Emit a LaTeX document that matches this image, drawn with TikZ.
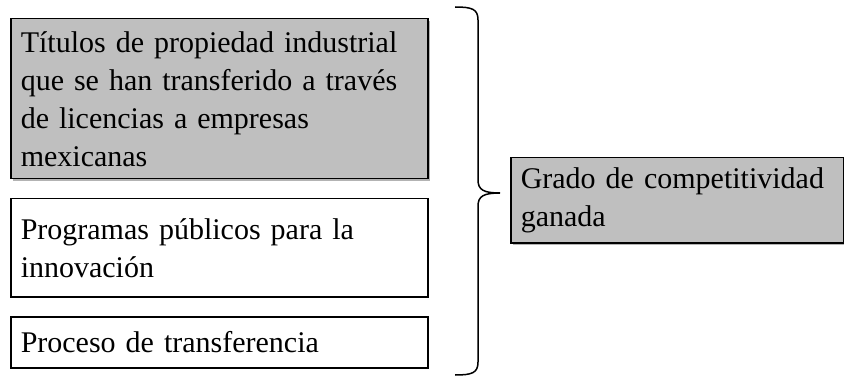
\documentclass[tikz,border=0pt]{standalone}
\usepackage{fontspec}
\setmainfont{Liberation Serif}
\usetikzlibrary{shadows}

\begin{document}
\begin{tikzpicture}[x=1pt,y=-1pt]
\tikzset{
  caja/.style={draw=black, line width=1.5pt, anchor=north west, inner xsep=10pt,
    inner ysep=0pt, text width=397pt, align=left,
    font=\fontsize{30}{38}\selectfont},
  gris/.style={fill=black!25, drop shadow={shadow xshift=2pt, shadow yshift=-2pt, opacity=0.6}},
}
\useasboundingbox (0,0) rectangle (844,377);
\node[caja, gris, minimum height=160pt] (titulos) at (10,18)
  {Títulos de propiedad industrial\\ que se han transferido a través\\ de licencias a empresas\\ mexicanas};
\node[caja, fill=white, minimum height=98pt] (programas) at (10,198)
  {Programas públicos para la\\ innovación};
\node[caja, fill=white, minimum height=51pt] (proceso) at (10,316)
  {Proceso de transferencia};
\node[caja, gris, text width=313pt, minimum height=85pt] (grado) at (510,157)
  {Grado de competitividad\\ ganada};
% llave
\coordinate (sup) at (455,7);
\coordinate (inf) at (455,375);
\coordinate (punta) at (500,193);
\draw[line width=1.5pt] (sup) .. controls (472,7) and (478,9) .. (478,20)
  -- (478,180) .. controls (478,190) and (484,193) .. (punta)
  .. controls (484,193) and (478,196) .. (478,206)
  -- (478,362) .. controls (478,373) and (472,375) .. (inf);
\end{tikzpicture}
\end{document}
